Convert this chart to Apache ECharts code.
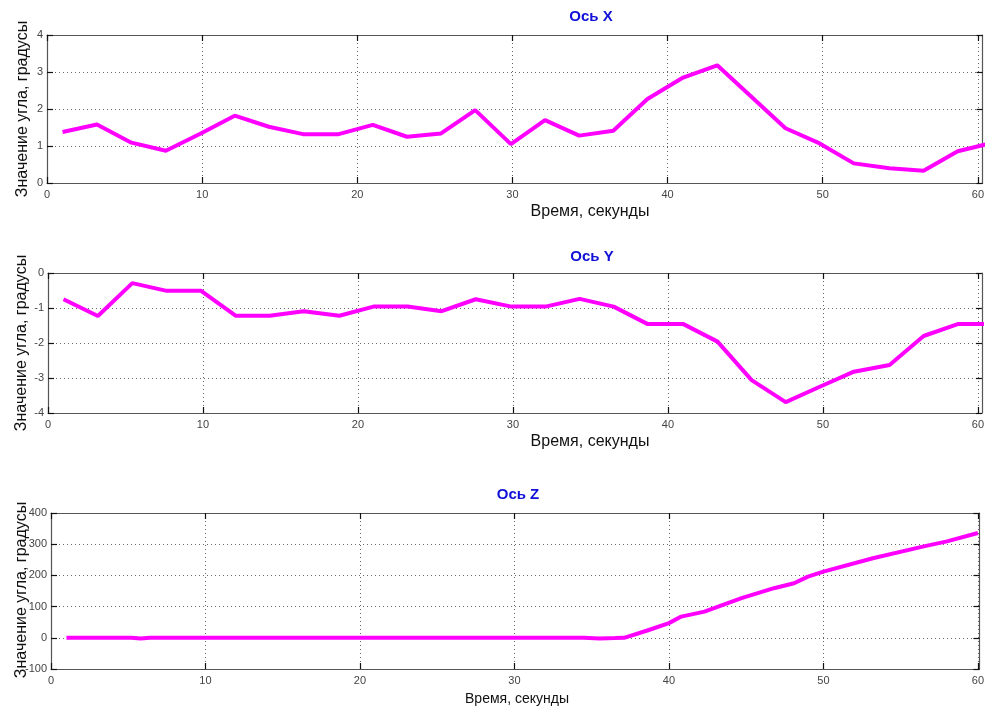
<!DOCTYPE html>
<html>
<head>
<meta charset="utf-8">
<script src="https://cdn.jsdelivr.net/npm/echarts@6/dist/echarts.min.js"></script>
<style>
  html, body { margin: 0; padding: 0; background: #fff; }
  #chart { width: 987px; height: 711px; }
</style>
</head>
<body>
<div id="chart"></div>
<script>
// time samples, seconds
const timeXY = [1, 3.22, 5.44, 7.66, 9.88, 12.1, 14.3, 16.5, 18.8, 21, 23.2, 25.4, 27.6, 29.9,
  32.1, 34.3, 36.5, 38.7, 41, 43.2, 45.4, 47.6, 49.8, 52, 54.3, 56.5, 58.7, 60.9]
const angleX = [1.38, 1.58, 1.09, 0.87, 1.33, 1.82, 1.52, 1.32, 1.32, 1.57, 1.25, 1.34, 1.97, 1.05,
  1.70, 1.28, 1.41, 2.27, 2.85, 3.18, 2.33, 1.48, 1.07, 0.53, 0.40, 0.33, 0.86, 1.08]
const angleY = [-0.75, -1.23, -0.29, -0.51, -0.51, -1.22, -1.22, -1.09, -1.22, -0.96, -0.96, -1.09, -0.75, -0.96,
  -0.96, -0.74, -0.96, -1.46, -1.46, -1.96, -3.06, -3.69, -3.25, -2.82, -2.63, -1.80, -1.46, -1.46]
const timeZ = [1, 5.2, 5.8, 6.4, 20, 34.5, 35.5, 36.5, 37.1, 38.7, 40, 40.8, 42.3, 44.7, 46.8, 48.1,
  49, 50, 53.2, 56.5, 58, 60]
const angleZ = [0, 0, -2, 0, 0, 0, -2, -1, 0, 25, 47, 68, 84, 127, 159, 175,
  196, 212, 255, 293, 309, 336]

const xTicks = [0, 10, 20, 30, 40, 50, 60]
const titles = ['Ось X', 'Ось Y', 'Ось Z']
const xName = 'Время, секунды'
const yName = 'Значение угла, градусы'

const pairs = (t, v) => t.map((x, i) => [x, v[i]])

const grids = [
  { left: 47, top: 35, width: 938, height: 148 },
  { left: 48, top: 273, width: 937, height: 140 },
  { left: 51, top: 513, width: 936, height: 156 }
]
const yRanges = [[0, 4, 1], [-4, 0, 1], [-100, 400, 100]]
const xMax = [60.3, 60.26, 60.1]

const chart = echarts.init(document.getElementById('chart'), null, { renderer: 'canvas' })

const gridLine = { show: true, lineStyle: { color: '#666', width: 1, type: [1, 3] } }
const tickLabel = { color: '#444', fontSize: 11, fontFamily: 'Liberation Sans Narrow, Liberation Sans, Arial' }
const frame = { show: true, onZero: false, lineStyle: { color: '#555', width: 1.2 } }
const tick = { show: true, inside: true, length: 6, customValues: xTicks, lineStyle: { color: '#111', width: 1.2 } }
const yTick = { show: true, inside: true, length: 6, lineStyle: { color: '#111', width: 1.2 } }

const xAxis = []
const yAxis = []
grids.forEach((g, i) => {
  xAxis.push({
    type: 'value', gridIndex: i, min: 0, max: xMax[i], interval: 10, position: 'bottom',
    axisLine: frame, axisTick: tick,
    axisLabel: Object.assign({}, tickLabel, { margin: 6, customValues: xTicks }),
    splitLine: gridLine
  })
  xAxis.push({
    type: 'value', gridIndex: i, min: 0, max: xMax[i], interval: 10, position: 'top',
    axisLine: frame, axisTick: tick,
    axisLabel: { show: false }, splitLine: { show: false }
  })
  const r = yRanges[i]
  yAxis.push({
    type: 'value', gridIndex: i, min: r[0], max: r[1], interval: r[2], position: 'left',
    axisLine: frame, axisTick: yTick,
    axisLabel: Object.assign({}, tickLabel, { margin: 4 }),
    splitLine: gridLine
  })
  yAxis.push({
    type: 'value', gridIndex: i, min: r[0], max: r[1], interval: r[2], position: 'right',
    axisLine: frame, axisTick: yTick,
    axisLabel: { show: false }, splitLine: { show: false }
  })
})

const seriesData = [pairs(timeXY, angleX), pairs(timeXY, angleY), pairs(timeZ, angleZ)]
const series = seriesData.map((d, i) => ({
  type: 'line', xAxisIndex: i * 2, yAxisIndex: i * 2, data: d,
  symbol: 'none', clip: true,
  lineStyle: { color: '#ff00ff', width: 4 }
}))

// labels placed like in the original figure
const titlePos = [[591, 17], [592, 257], [518, 495]]
const xNamePos = [[590, 212], [590, 442], [517, 699]]
const yNamePos = [[23, 109], [22, 343], [22, 590]]
const graphic = []
titlePos.forEach((p, i) => {
  graphic.push({ type: 'text', x: p[0], y: p[1], style: {
    text: titles[i], align: 'center', verticalAlign: 'middle',
    font: 'bold 15px "Liberation Sans", Arial', fill: '#1010d8' } })
})
xNamePos.forEach((p, i) => {
  graphic.push({ type: 'text', x: p[0], y: p[1], style: {
    text: xName, align: 'center', verticalAlign: 'middle',
    font: (i === 2 ? '14px' : '16px') + ' "Liberation Sans", Arial', fill: '#111' } })
})
yNamePos.forEach((p, i) => {
  graphic.push({ type: 'text', x: p[0], y: p[1], rotation: Math.PI / 2, style: {
    text: yName, align: 'center', verticalAlign: 'middle',
    font: '16px "Liberation Sans", Arial', fill: '#111' } })
})

chart.setOption({
  backgroundColor: '#fff',
  animation: false,
  grid: grids.map(g => Object.assign({ containLabel: false }, g)),
  xAxis,
  yAxis,
  series,
  graphic
})
</script>
</body>
</html>
